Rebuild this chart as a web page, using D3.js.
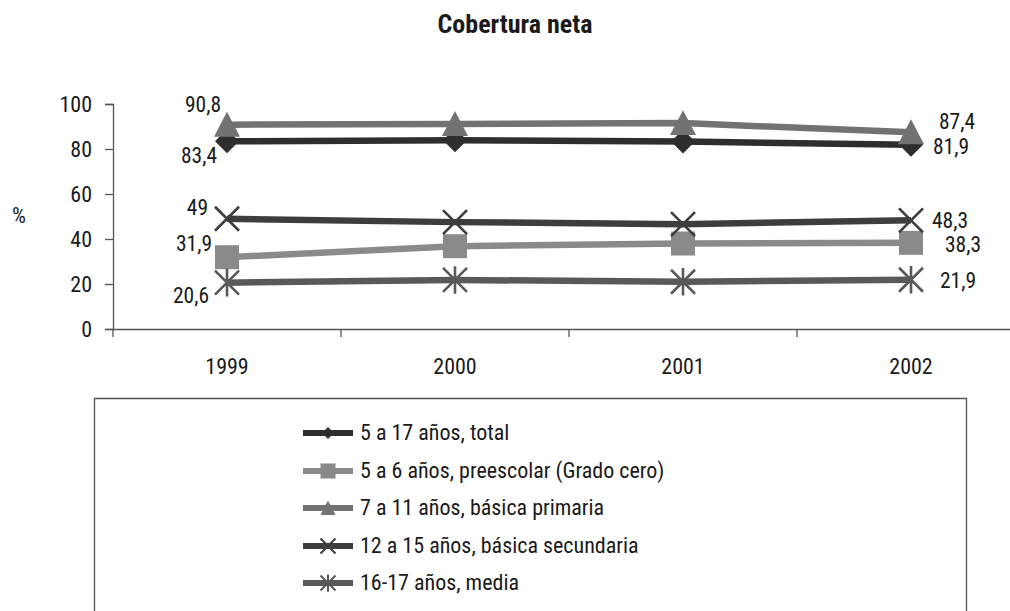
<!DOCTYPE html>
<html><head><meta charset="utf-8">
<script src="https://cdn.jsdelivr.net/npm/d3@7"></script>
<style>
body{margin:0;background:#fff;}
svg text{font-family:"Roboto Condensed","Liberation Sans Narrow",Roboto,sans-serif;fill:#1a1a1a;}
</style></head><body>
<svg id="c" width="1010" height="611"></svg>
<script>
const years = ["1999","2000","2001","2002"];
const seriesNames = ["5 a 17 años, total","5 a 6 años, preescolar (Grado cero)","7 a 11 años,  básica primaria","12 a 15 años, básica secundaria","16-17 años, media"];
const total = [83.4, 83.9, 83.3, 81.9];
const preescolar = [31.9, 36.8, 38.0, 38.3];
const primaria = [90.8, 91.1, 91.5, 87.4];
const secundaria = [49, 47.5, 46.6, 48.3];
const media = [20.6, 21.8, 21.0, 21.9];
const yTicks = [0, 20, 40, 60, 80, 100];
const firstLabels = ["83,4","31,9","90,8","49","20,6"];
const lastLabels = ["81,9","38,3","87,4","48,3","21,9"];

const series = [
  {name: seriesNames[0], values: total, color: "#2e2e2e", shape: "diamond", first: firstLabels[0], last: lastLabels[0], fdx:-10, fdy:22, ldx:22, ldy:9},
  {name: seriesNames[1], values: preescolar, color: "#8a8a8a", shape: "square", first: firstLabels[1], last: lastLabels[1], fdx:-15, fdy:-6, ldx:34, ldy:9},
  {name: seriesNames[2], values: primaria, color: "#727272", shape: "triangle", first: firstLabels[2], last: lastLabels[2], fdx:-6, fdy:-13, ldx:28, ldy:-3},
  {name: seriesNames[3], values: secundaria, color: "#3d3d3d", shape: "x", first: firstLabels[3], last: lastLabels[3], fdx:-19, fdy:-4, ldx:21, ldy:8},
  {name: seriesNames[4], values: media, color: "#595959", shape: "asterisk", first: firstLabels[4], last: lastLabels[4], fdx:-18, fdy:20, ldx:29, ldy:8}
];

const svg = d3.select("#c");
const x = d3.scaleBand().domain(years).range([113, 1025]);
const y = d3.scaleLinear().domain([0, 100]).range([329, 104]);

// title
svg.append("text").attr("x", 515).attr("y", 33).attr("text-anchor", "middle")
  .attr("font-size", 26).attr("font-weight", "bold").text("Cobertura neta");

// y axis
const ya = svg.append("g").attr("transform", "translate(113,0)")
  .call(d3.axisLeft(y).tickValues(yTicks).tickSize(8).tickPadding(13));
ya.select(".domain").attr("stroke", "#555").attr("stroke-width", 1.3);
ya.selectAll(".tick line").attr("stroke", "#555").attr("stroke-width", 1.3);
ya.selectAll(".tick text").attr("font-size", 22).attr("font-family", null).attr("fill", "#1a1a1a").attr("dy", "0.36em");

svg.append("text").attr("x", 19).attr("y", 223).attr("text-anchor", "middle").attr("font-size", 22).text("%");

// x axis
const xa = svg.append("g").attr("transform", "translate(0,329)")
  .call(d3.axisBottom(x).tickSize(0).tickPadding(29).tickSizeOuter(0));
xa.select(".domain").attr("stroke", "#555").attr("stroke-width", 1.3);
xa.selectAll(".tick text").attr("font-size", 22).attr("font-family", null).attr("fill", "#1a1a1a");
xa.selectAll(".bnd").data(years).enter().append("line").attr("class","bnd")
  .attr("x1", d => x(d)).attr("x2", d => x(d)).attr("y1", 0).attr("y2", 8)
  .attr("stroke", "#555").attr("stroke-width", 1.3);

const cx = d => x(d) + x.bandwidth() / 2;

function marker(g, shape, color, s) {
  if (shape === "diamond") {
    g.append("path").attr("d", `M0,${-s}L${s},0L0,${s}L${-s},0Z`).attr("fill", color);
  } else if (shape === "square") {
    g.append("rect").attr("x", -s).attr("y", -s).attr("width", 2*s).attr("height", 2*s).attr("fill", color);
  } else if (shape === "triangle") {
    g.append("path").attr("d", `M0,${-s}L${s},${s*0.92}L${-s},${s*0.92}Z`).attr("fill", color);
  } else if (shape === "x") {
    g.append("path").attr("d", `M${-s},${-s}L${s},${s}M${-s},${s}L${s},${-s}`).attr("stroke", color).attr("stroke-width", s > 9 ? 2.6 : 2);
  } else if (shape === "asterisk") {
    g.append("path").attr("d", `M${-s},${-s}L${s},${s}M${-s},${s}L${s},${-s}M0,${-s*1.15}L0,${s*1.15}`).attr("stroke", color).attr("stroke-width", s > 9 ? 2.6 : 2);
  }
}

const line = d3.line().x((d, i) => cx(years[i])).y(d => y(d));

series.forEach(s => {
  svg.append("path").datum(s.values).attr("d", line).attr("fill", "none")
    .attr("stroke", s.color).attr("stroke-width", 6.5);
});
series.forEach(s => {
  s.values.forEach((v, i) => {
    const g = svg.append("g").attr("transform", `translate(${cx(years[i])},${y(v)})`);
    marker(g, s.shape, s.color, s.shape === "triangle" ? 13 : 12);
  });
  svg.append("text").attr("x", cx(years[0]) + s.fdx).attr("y", y(s.values[0]) + s.fdy)
    .attr("text-anchor", "end").attr("font-size", 21.5).text(s.first);
  svg.append("text").attr("x", cx(years[3]) + s.ldx).attr("y", y(s.values[3]) + s.ldy)
    .attr("text-anchor", "start").attr("font-size", 21.5).text(s.last);
});

// legend
svg.append("path").attr("d", "M94.5,611V398.5H966.5V611").attr("fill", "none").attr("stroke", "#555").attr("stroke-width", 1.3);
const legY = [433, 471, 508, 546, 583];
series.forEach((s, i) => {
  const g = svg.append("g").attr("transform", `translate(0,${legY[i]})`);
  g.append("line").attr("x1", 303).attr("x2", 353).attr("y1", 0).attr("y2", 0).attr("stroke", s.color).attr("stroke-width", 6);
  const m = g.append("g").attr("transform", "translate(328,0)");
  marker(m, s.shape, s.color, s.shape === "diamond" ? 6 : 7.5);
  g.append("text").attr("x", 360).attr("y", 7).attr("font-size", 22).text(s.name);
});
</script></body></html>
